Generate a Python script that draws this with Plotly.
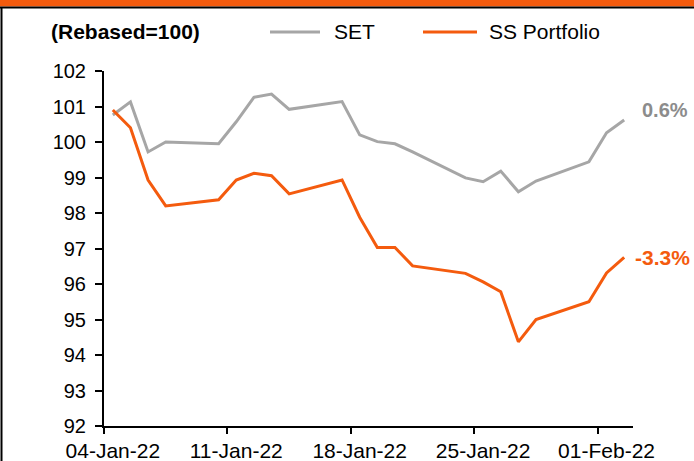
import plotly.graph_objects as go

dates = ["2022-01-04", "2022-01-05", "2022-01-06", "2022-01-07", "2022-01-10",
         "2022-01-11", "2022-01-12", "2022-01-13", "2022-01-14", "2022-01-17",
         "2022-01-18", "2022-01-19", "2022-01-20", "2022-01-21", "2022-01-24",
         "2022-01-25", "2022-01-26", "2022-01-27", "2022-01-28", "2022-01-31",
         "2022-02-01", "2022-02-02"]

set_index = [100.76, 101.13, 99.72, 100.00, 99.95, 100.57, 101.26, 101.35, 100.92, 101.14,
             100.20, 100.01, 99.95, 99.72, 98.99, 98.88, 99.18, 98.60, 98.90, 99.44,
             100.26, 100.62]

ss_portfolio = [100.90, 100.40, 98.93, 98.20, 98.37, 98.93, 99.12, 99.05, 98.54, 98.93,
                97.88, 97.03, 97.03, 96.51, 96.30, 96.06, 95.78, 94.37, 95.00, 95.50,
                96.31, 96.75]

tick_dates = ["2022-01-04", "2022-01-11", "2022-01-18", "2022-01-25", "2022-02-01"]
tick_labels = ["04-Jan-22", "11-Jan-22", "18-Jan-22", "25-Jan-22", "01-Feb-22"]
tick_bounds = ["2022-01-03 12:00", "2022-01-10 12:00", "2022-01-17 12:00",
               "2022-01-24 12:00", "2022-01-31 12:00"]

series_names = ["SET", "SS Portfolio"]
end_labels = ["0.6%", "-3.3%"]

GREY = "#A6A6A6"
GREY_TXT = "#8C8C8C"
ORANGE = "#F45B0E"
FONT = "Liberation Sans, Arial, sans-serif"

fig = go.Figure()
fig.add_trace(go.Scatter(x=dates, y=set_index, mode="lines", name=series_names[0],
                         line=dict(color=GREY, width=3), showlegend=False))
fig.add_trace(go.Scatter(x=dates, y=ss_portfolio, mode="lines", name=series_names[1],
                         line=dict(color=ORANGE, width=3), showlegend=False))

L, R, T, B = 104, 61, 71, 35
W, H = 694, 461
pw, ph = W - L - R, H - T - B


def px(x):
    return (x - L) / pw


def py(y):
    return (H - B - y) / ph


shapes = [
    # top orange band and black rule
    dict(type="rect", xref="paper", yref="paper", x0=px(0), x1=px(W), y0=py(6.5), y1=py(0),
         fillcolor=ORANGE, line=dict(width=0), layer="above"),
    dict(type="line", xref="paper", yref="paper", x0=px(0), x1=px(W), y0=py(7.5), y1=py(7.5),
         line=dict(color="black", width=2)),
    # left border
    dict(type="line", xref="paper", yref="paper", x0=px(1.5), x1=px(1.5), y0=py(H), y1=py(7),
         line=dict(color="black", width=2)),
    # legend samples
    dict(type="line", xref="paper", yref="paper", x0=px(270), x1=px(320), y0=py(32), y1=py(32),
         line=dict(color=GREY, width=3)),
    dict(type="line", xref="paper", yref="paper", x0=px(423), x1=px(477), y0=py(32), y1=py(32),
         line=dict(color=ORANGE, width=3)),
]

annotations = [
    dict(text="<b>(Rebased=100)</b>", xref="paper", yref="paper", x=px(49), y=py(32),
         xanchor="left", yanchor="middle", showarrow=False,
         font=dict(family=FONT, size=21, color="black")),
    dict(text=series_names[0], xref="paper", yref="paper", x=px(332), y=py(32),
         xanchor="left", yanchor="middle", showarrow=False,
         font=dict(family=FONT, size=21, color="black")),
    dict(text=series_names[1], xref="paper", yref="paper", x=px(487), y=py(32),
         xanchor="left", yanchor="middle", showarrow=False,
         font=dict(family=FONT, size=21, color="black")),
    dict(text="<b>" + end_labels[0] + "</b>", x=dates[-1], y=set_index[-1],
         xanchor="left", yanchor="middle", xshift=16, yshift=10, showarrow=False,
         font=dict(family=FONT, size=20, color=GREY_TXT)),
    dict(text="<b>" + end_labels[1] + "</b>", x=dates[-1], y=ss_portfolio[-1],
         xanchor="left", yanchor="middle", xshift=9, yshift=0, showarrow=False,
         font=dict(family=FONT, size=21, color=ORANGE)),
]

fig.update_layout(
    width=W, height=H,
    margin=dict(l=L, r=R, t=T, b=B, pad=0, autoexpand=False),
    paper_bgcolor="white", plot_bgcolor="white",
    font=dict(family=FONT, size=20, color="black"),
    shapes=shapes, annotations=annotations,
    showlegend=False,
)

fig.update_xaxes(
    type="date", automargin=False,
    range=["2022-01-03 12:00", "2022-02-02 12:00"],
    tickmode="array", tickvals=tick_dates, ticktext=tick_labels,
    ticks="", ticklen=0, ticklabelstandoff=5,
    showline=True, linecolor="black", linewidth=2,
    showgrid=False, zeroline=False,
    tickfont=dict(family=FONT, size=21, color="black"),
    minor=dict(tickmode="array", tickvals=tick_bounds, ticks="outside",
               ticklen=6, tickwidth=2, tickcolor="black", showgrid=False),
)

fig.update_yaxes(
    range=[92, 102], dtick=1, tick0=92, automargin=False,
    ticks="outside", ticklen=7, tickwidth=2, tickcolor="black",
    showline=True, linecolor="black", linewidth=2,
    showgrid=False, zeroline=False,
    ticklabelstandoff=5,
    tickfont=dict(family=FONT, size=20, color="black"),
)

fig.write_html("out.html",
               config={"displayModeBar": False},
               post_script="document.body.style.margin='0px';"
                           "document.body.style.overflow='hidden';")
